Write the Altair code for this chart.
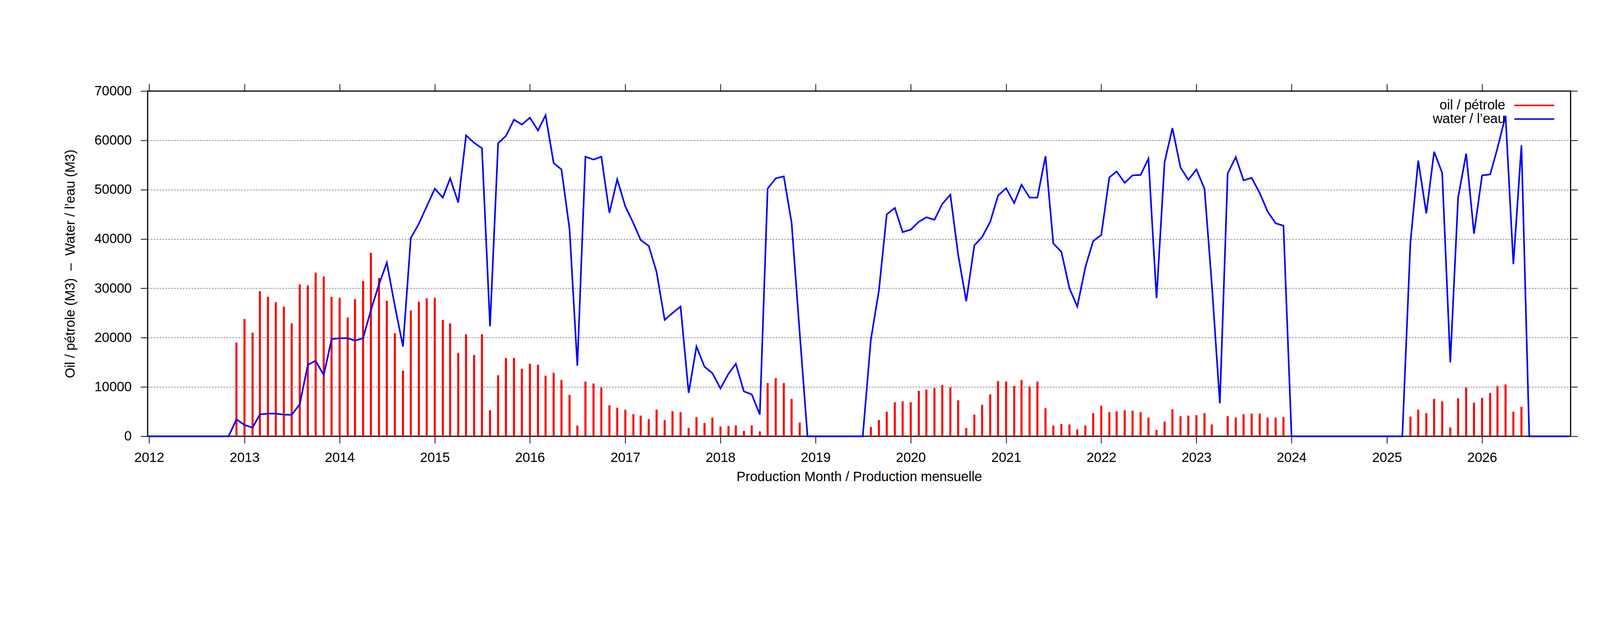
import altair as alt
import pandas as pd

# ---------------- data ----------------
years = list(range(2012, 2027))          # monthly data 2012-01 .. 2026-12
tick_years = list(range(2012, 2027))
y_ticks = [0, 10000, 20000, 30000, 40000, 50000, 60000, 70000]

oil_label = "oil / pétrole"
water_label = "water / l’eau"

oil = [
    # 2012
    0, 0, 0, 0, 0, 0, 0, 0, 0, 0, 0, 19000,
    # 2013
    23800, 21000, 29400, 28300, 27200, 26300, 22900, 30800, 30600, 33200, 32400, 28300,
    # 2014
    28100, 24100, 27800, 31500, 37200, 32100, 27500, 20900, 13300, 25500, 27300, 28000,
    # 2015
    28100, 23600, 22900, 16900, 20700, 16500, 20700, 5300, 12400, 15900, 15900, 13700,
    # 2016
    14700, 14500, 12300, 12900, 11400, 8400, 2200, 11100, 10700, 9900, 6300, 5800,
    # 2017
    5400, 4500, 4200, 3500, 5400, 3300, 5100, 4900, 1700, 3900, 2700, 3800,
    # 2018
    2000, 2100, 2200, 1100, 2200, 1000, 10800, 11800, 10800, 7600, 2800, 0,
    # 2019
    0, 0, 0, 0, 0, 0, 0, 1900, 3300, 5000, 6900, 7100,
    # 2020
    6900, 9200, 9500, 9800, 10400, 9900, 7300, 1700, 4400, 6400, 8500, 11200,
    # 2021
    11100, 10200, 11400, 10100, 11100, 5700, 2200, 2500, 2400, 1400, 2200, 4700,
    # 2022
    6200, 4900, 5100, 5300, 5200, 4900, 3800, 1300, 3000, 5500, 4100, 4200,
    # 2023
    4300, 4700, 2400, 200, 4100, 3800, 4500, 4600, 4600, 3800, 3800, 3900,
    # 2024
    0, 0, 0, 0, 0, 0, 0, 0, 0, 0, 0, 0,
    # 2025
    0, 0, 0, 4000, 5400, 4700, 7600, 7100, 1800, 7700, 9900, 6800,
    # 2026
    7800, 8800, 10200, 10500, 5000, 6000, 0, 0, 0, 0, 0, 0,
]

water = [
    # 2012
    0, 0, 0, 0, 0, 0, 0, 0, 0, 0, 0, 3440,
    # 2013
    2300, 1750, 4450, 4600, 4600, 4400, 4350, 6500, 14500, 15300, 12400, 19700,
    # 2014
    19900, 19900, 19400, 19900, 25600, 30800, 35200, 26400, 18200, 40200, 43100, 46600,
    # 2015
    50200, 48400, 52300, 47400, 61000, 59500, 58400, 22300, 59400, 60900, 64200, 63200,
    # 2016
    64600, 62000, 65100, 55400, 54100, 42000, 14300, 56700, 56100, 56700, 45300, 52100,
    # 2017
    46600, 43200, 39800, 38600, 33300, 23600, 25000, 26300, 8800, 18200, 14100, 12800,
    # 2018
    9700, 12700, 14700, 9100, 8500, 4400, 50200, 52300, 52700, 43300, 21000, 0,
    # 2019
    0, 0, 0, 0, 0, 0, 0, 19600, 29600, 45000, 46300, 41400,
    # 2020
    41900, 43500, 44400, 43900, 47100, 49000, 36800, 27400, 38700, 40400, 43500, 48800,
    # 2021
    50300, 47300, 51000, 48400, 48400, 56800, 39100, 37400, 30000, 26300, 34300, 39600,
    # 2022
    40800, 52500, 53700, 51400, 52900, 53000, 56300, 28000, 55600, 62500, 54500, 52000,
    # 2023
    54100, 50200, 30900, 6700, 53300, 56600, 51900, 52400, 49300, 45600, 43200, 42700,
    # 2024
    0, 0, 0, 0, 0, 0, 0, 0, 0, 0, 0, 0,
    # 2025
    0, 0, 0, 39200, 55900, 45200, 57700, 53400, 15000, 48400, 57300, 41100,
    # 2026
    52900, 53100, 58400, 65000, 34900, 59000, 0, 0, 0, 0, 0, 0,
]

months = [f"{y}-{m:02d}-01" for y in years for m in range(1, 13)]
df = pd.DataFrame({"month": months, "oil": oil, "water": water})

# ---------------- layout ----------------
W, H = 4874, 1182
FONT = "Liberation Sans"
FS = 46
RED, BLUE = "#ff0000", "#0000ff"

x_scale = alt.Scale(
    type="utc",
    domain=[alt.DateTime(year=2012, month=1, date=1, utc=True),
            alt.DateTime(year=2026, month=12, date=1, utc=True)],
    nice=False,
)
y_scale = alt.Scale(domain=[0, 70000], nice=False, zero=True)
year_values = [alt.DateTime(year=y, month=1, date=1, utc=True) for y in tick_years]

bars = alt.Chart(df).mark_bar(width=7, color=RED).encode(
    x=alt.X(
        "month:T", scale=x_scale,
        axis=alt.Axis(
            orient="bottom", values=year_values, format="%Y", grid=False,
            labelFlush=False, labelOverlap=False, labelPadding=27,
            title="Production Month / Production mensuelle",
            titleX=W / 2, titleY=139, titleBaseline="middle", titleAlign="center",
        ),
    ),
    y=alt.Y(
        "oil:Q", scale=y_scale,
        axis=alt.Axis(
            orient="left", values=y_ticks, format="d", grid=True, labelPadding=31,
            title="Oil / pétrole (M3) \u00a0–\u00a0 Water / l’eau (M3)",
            titleX=-264, titleY=H / 2, titleAngle=270,
            titleBaseline="middle", titleAlign="center",
        ),
    ),
)

line = alt.Chart(df).mark_line(strokeWidth=5.5, color=BLUE).encode(
    x=alt.X(
        "month:T", scale=x_scale,
        axis=alt.Axis(orient="top", values=year_values, labels=False, grid=False, title=None),
    ),
    y=alt.Y(
        "water:Q", scale=y_scale,
        axis=alt.Axis(orient="right", values=y_ticks, labels=False, grid=False, title=None),
    ),
)

# ---------------- key (top-right, label left of its sample line) ----------------
key_src = pd.DataFrame({"k": [0]})
KEY_TEXT_X, KEY_LINE_X1, KEY_LINE_X2 = 4650, 4681, 4818
KEY_ROW_Y = [49, 96]

key_layers = []
for lbl, col, ky in [(oil_label, RED, KEY_ROW_Y[0]), (water_label, BLUE, KEY_ROW_Y[1])]:
    key_layers.append(
        alt.Chart(key_src).mark_text(
            align="right", baseline="middle", font=FONT, fontSize=FS, color="black", text=lbl
        ).encode(x=alt.value(KEY_TEXT_X), y=alt.value(ky))
    )
    key_layers.append(
        alt.Chart(key_src).mark_rule(color=col, strokeWidth=5).encode(
            x=alt.value(KEY_LINE_X1), x2=alt.value(KEY_LINE_X2), y=alt.value(ky)
        )
    )

chart = (
    alt.layer(bars, line, *key_layers)
    .resolve_axis(x="independent", y="independent")
    .properties(
        width=W, height=H,
        autosize=alt.AutoSizeParams(type="none"),
        padding={"left": 495, "top": 36, "right": 90, "bottom": 350},
        background="white",
    )
    .configure_view(stroke="black", strokeWidth=4)
    .configure_axis(
        domain=False,
        labelFont=FONT, labelFontSize=FS, labelColor="black",
        titleFont=FONT, titleFontSize=FS, titleColor="black", titleFontWeight="normal",
        tickColor="black", tickSize=24, tickWidth=2.5,
        gridColor="#222222", gridDash=[6, 4], gridWidth=1.3,
    )
)

chart.save("out.html", embed_options={"renderer": "svg", "actions": False})
